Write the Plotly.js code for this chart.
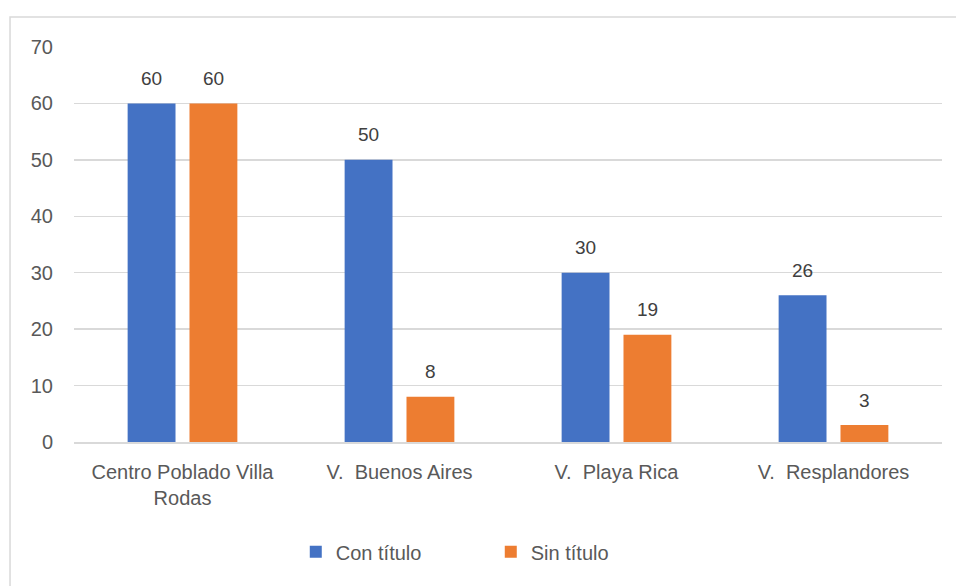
<!DOCTYPE html>
<html>
<head>
<meta charset="utf-8">
<script src="https://cdn.plot.ly/plotly-3.0.1.min.js"></script>
<style>
  html, body { margin: 0; padding: 0; background: #ffffff; }
  #chart { width: 956px; height: 586px; }
</style>
</head>
<body>
<div id="chart"></div>
<script>
// ---- data ----
const categories = ["Centro Poblado Villa<br>Rodas", "V.  Buenos Aires", "V.  Playa Rica", "V.  Resplandores"];
const seriesNames = ["Con título", "Sin título"];
const conTitulo = [60, 50, 30, 26];
const sinTitulo = [60, 8, 19, 3];
const yTicks = [0, 10, 20, 30, 40, 50, 60, 70];

const colors = ["#4472C4", "#ED7D31"];
const fontFam = "Liberation Sans, Arial, sans-serif";
const seriesValues = [conTitulo, sinTitulo];

const traces = seriesValues.map((vals, i) => ({
  type: "bar",
  name: seriesNames[i],
  x: categories,
  y: vals,
  marker: { color: colors[i] },
  hoverinfo: "none"
}));

const annotations = [];
seriesValues.forEach((vals, i) => {
  vals.forEach((v, j) => {
    annotations.push({
      x: categories[j], y: v, xref: "x", yref: "y",
      text: String(v), showarrow: false,
      xshift: i === 0 ? -31 : 31, yshift: 25,
      yanchor: "middle",
      font: { family: fontFam, size: 19, color: "#404040" }
    });
  });
});

const layout = {
  width: 956, height: 586,
  margin: { l: 74, r: 14, t: 47, b: 144 },
  paper_bgcolor: "#ffffff",
  plot_bgcolor: "#ffffff",
  font: { family: fontFam, size: 20, color: "#595959" },
  barmode: "group",
  bargap: 0.43,
  bargroupgap: 0.226,
  showlegend: true,
  legend: {
    orientation: "h",
    x: 0.2555, xanchor: "left",
    y: -0.278, yanchor: "middle",
    font: { family: fontFam, size: 20, color: "#595959" },
    entrywidth: 150,
    itemclick: false
  },
  xaxis: {
    type: "category",
    showgrid: false,
    showline: true,
    linecolor: "#D9D9D9",
    linewidth: 1.5,
    ticks: "",
    ticklabelstandoff: 11,
    tickfont: { family: fontFam, size: 20, color: "#595959" },
    fixedrange: true
  },
  yaxis: {
    range: [0, 70],
    tickvals: yTicks,
    ticktext: yTicks.map(String),
    showgrid: true,
    gridcolor: "#D9D9D9",
    gridwidth: 1.5,
    zeroline: false,
    showline: false,
    ticks: "",
    ticklabelstandoff: 20,
    tickfont: { family: fontFam, size: 20, color: "#595959" },
    fixedrange: true
  },
  annotations: annotations,
  shapes: [{
    type: "rect", xref: "paper", yref: "paper",
    x0: -0.0737, x1: 1.2, y0: -0.6, y1: 1.076,
    line: { color: "#D9D9D9", width: 1.5 },
    fillcolor: "rgba(0,0,0,0)",
    layer: "below"
  }]
};

Plotly.newPlot("chart", traces, layout, { displayModeBar: false, staticPlot: true });
</script>
</body>
</html>
